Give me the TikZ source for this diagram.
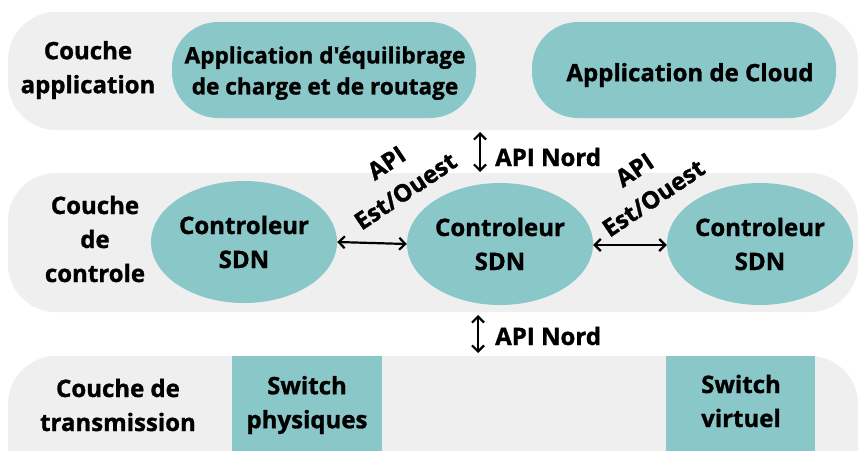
\documentclass[tikz,border=0pt]{standalone}
\usepackage{fontspec}
\setmainfont{Open Sans}[UprightFont=* Bold, Ligatures=TeXOff, UprightFeatures={FakeBold=1.2}]
\usetikzlibrary{arrows.meta,shapes.geometric}
\definecolor{band}{HTML}{EFEFEF}
\definecolor{teal}{HTML}{8AC7C9}
\tikzset{
  bandbox/.style={fill=band, draw=none, rounded corners=48},
  appbox/.style={fill=teal, draw=none, rounded corners=46},
  ctrl/.style={ellipse, fill=teal, draw=none, minimum width=186, minimum height=122, inner sep=0, align=center, font=\fontsize{24}{34}\selectfont},
  swbox/.style={fill=teal, draw=none},
  lbl/.style={align=center, font=\fontsize{24}{34}\selectfont, inner sep=0},
  tipend/.style={},
  arr/.style={{Straight Barb[length=6pt,width=12pt]}-{Straight Barb[length=6pt,width=12pt]}, line width=2.2pt, black}
}
\begin{document}
\begin{tikzpicture}[x=1pt,y=-1pt]
\clip (0,0) rectangle (859,450);
\fill[white] (0,0) rectangle (859,450);
% bands
\path[bandbox] (8,12) rectangle (858,130);
\path[bandbox] (8,173) rectangle (858,312);
\path[bandbox] (8,356) rectangle (858,500);
% application layer
\node[lbl] (lapp) at (88,70) {Couche\\application};
\path[appbox] (172,22) rectangle (476,118);
\node[lbl, font=\fontsize{22.6}{31}\selectfont] (app1) at (325,73) {Application d'équilibrage\\de charge et de routage};
\path[appbox] (532,22) rectangle (836,118);
\node[lbl] (app2) at (690,75) {Application de Cloud};
% control layer
\node[lbl] (lctl) at (95,239) {Couche\\de\\controle};
\node[ctrl] (c1) at (244,242) {Controleur\\SDN};
\node[ctrl] (c2) at (500,244) {Controleur\\SDN};
\node[ctrl] (c3) at (760,244) {Controleur\\SDN};
\draw[arr] (c1.east) -- (c2.west);
\draw[arr] ([yshift=-1pt]c2.east) -- ([yshift=-1pt]c3.west);
\node[lbl, rotate=34] (ew1) at (396,177) {API\\Est/Ouest};
\node[lbl, rotate=34] (ew2) at (644,184) {API\\Est/Ouest};
% north API arrows
\coordinate (n1t) at (480,132);
\coordinate (n1b) at (480,172);
\draw[arr] (n1t) -- (n1b);
\node[lbl, anchor=west] (nord1) at (495,157) {API Nord};
\coordinate (n2t) at (478,315);
\coordinate (n2b) at (478,353);
\draw[arr] (n2t) -- (n2b);
\node[lbl, anchor=west] (nord2) at (495,336) {API Nord};
% transmission layer
\node[lbl] (ltr) at (118,405) {Couche de\\transmission};
\path[swbox] (232,356) rectangle (382,460);
\node[lbl] (sw1) at (307,405) {Switch\\physiques};
\path[swbox] (666,356) rectangle (815,460);
\node[lbl] (sw2) at (741,401) {Switch\\virtuel};
\end{tikzpicture}
\end{document}
